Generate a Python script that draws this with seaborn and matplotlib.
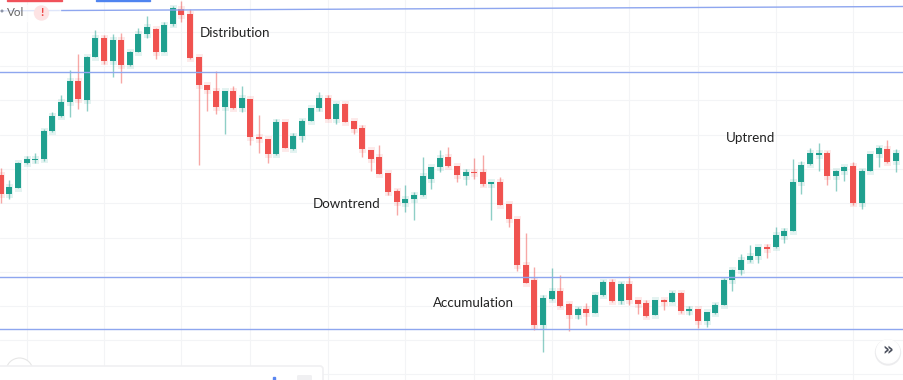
import matplotlib
matplotlib.use("Agg")
import matplotlib.pyplot as plt
import matplotlib.patches as mpatches
import seaborn as sns
import pandas as pd

# y values on a screen-like price scale (small = high)
direction = [
    "r", "g", "g", "g", "g", "g", "g", "g", "g", "r",
    "g", "g", "r", "g", "r", "g", "g", "g", "r", "g",
    "g", "r", "r", "r", "r", "r", "g", "r", "g", "r",
    "r", "r", "g", "r", "g", "g", "g", "g", "r", "g",
    "r", "r", "r", "r", "r", "r", "r", "g", "g", "g",
    "g", "g", "r", "r", "g", "r", "r", "g", "r", "r",
    "r", "r", "r", "g", "g", "r", "r", "g", "r", "g",
    "g", "r", "g", "r", "r", "r", "g", "r", "g", "r",
    "g", "r", "g", "g", "g", "g", "g", "g", "g", "r",
    "g", "g", "g", "g", "g", "g", "r", "g", "g", "r",
    "g", "g", "g", "r", "g", "r"]
body_top = [
    175, 187, 163, 159, 158.5, 131, 116, 102, 81, 81,
    57, 38, 38, 40, 40, 52, 34, 27, 29, 25,
    8, 9, 14, 57, 85, 91, 91, 91, 98, 99,
    137, 139, 122, 122, 136, 121, 108, 98, 98, 104,
    104, 121, 128, 150, 157, 173, 191, 199, 195, 176,
    167, 158, 157, 166, 172, 172, 172, 182, 182, 204,
    219, 265, 280, 298, 291, 291, 304, 309, 309, 295,
    282, 282, 284, 284, 300, 303, 300, 300, 293, 293,
    309, 309, 312, 305, 280, 270, 260, 256, 247, 247,
    235, 231, 182, 165, 153, 153, 153, 171, 167, 166,
    171, 154, 148, 149, 153, 153]
body_bottom = [
    194, 194, 188, 163, 160, 159, 131, 116, 102, 99,
    100, 57, 61, 61, 65, 65, 52, 34, 52, 52,
    24, 15, 58, 85, 90, 107, 107, 108, 108, 137,
    139, 154, 154, 148, 149, 136, 121, 108, 119, 119,
    122, 129, 149, 159, 174, 192, 202, 203, 199, 195,
    179, 167, 166, 175, 176, 173, 184, 183.5, 205, 219,
    265, 283, 325, 325, 299, 306, 315, 315, 313, 313,
    295, 301, 301, 300, 304, 316, 315, 302, 302, 311,
    311, 321, 321, 313, 305, 280, 270, 260, 256, 248.5,
    247, 236, 231, 182, 164, 154.5, 176, 176, 171, 203,
    203, 171, 154, 162, 161, 157]
wick_top = [
    168, 180, 162, 156, 153, 129, 112, 95, 70, 54,
    56, 30, 35, 34, 33, 51, 28, 16, 28, 22,
    6, 1, 9, 57, 85, 71, 91, 86, 86, 99,
    115, 139, 119, 122, 133, 119, 108, 92, 95, 103,
    103, 121, 125, 150, 145, 173, 189, 185, 192, 157,
    167, 150, 147, 166, 169, 158, 155, 181.5, 177, 204,
    219, 233, 267, 295, 268, 275, 303, 307, 303, 294,
    280, 279, 282, 276, 300, 300, 300, 299, 291, 292,
    306, 309, 312, 303, 278, 269, 254, 245, 247, 244,
    227, 228, 159, 161, 148, 143, 151, 170, 166, 162,
    169, 154, 146, 140, 149, 150]
wick_bottom = [
    203, 199, 188, 164, 163, 161, 132, 117, 117, 109,
    111, 57, 64, 77, 83, 66, 52, 38, 59, 52,
    26, 22, 59, 165, 111, 114, 134, 109, 112, 145,
    153, 163, 155, 148, 150, 142, 121, 111, 119, 124,
    122, 134, 157, 171, 174, 195, 215, 212, 220, 196,
    189, 172, 167, 182, 185, 179, 186, 220, 205, 227,
    271, 283, 330, 352, 300, 307, 331, 319, 325, 313,
    296, 302, 304, 305, 314, 317, 315, 310, 302, 313,
    315, 328, 327, 314, 305, 291, 275, 262, 263, 258,
    248, 243, 231, 194, 165, 171, 185, 191, 181, 205,
    209, 171, 167, 163, 172, 160]

level_x = [-1, 106]
level_top = [10.85, 6.45]
level_high = [71.7, 71.7]
level_low = [277, 277]
level_floor = [329.3, 329.3]
grid_candles = [3, 12, 21, 29, 38, 47, 55, 64, 73, 81, 90, 99]
grid_prices = [32, 66, 100, 134.7, 169, 203, 237.5, 271.7, 306, 340, 374]

phase_labels = ["Distribution", "Downtrend", "Accumulation", "Uptrend"]
phase_x = [23.1, 36.3, 50.2, 84.25]
phase_y = [33, 204.5, 303, 137.5]

sns.set_theme(style="white")
plt.rcParams['font.family'] = ['Lato', 'DejaVu Sans']

green, red = "#1fa08f", "#f0524f"
palette = {"g": green, "r": red}

n = len(direction)
candle = list(range(n))
bodies = pd.DataFrame({"candle": candle * 2, "price": body_top + body_bottom, "dir": direction * 2})
wicks = pd.DataFrame({"candle": candle * 2, "price": wick_top + wick_bottom, "dir": direction * 2})

fig = plt.figure(figsize=(9.04, 3.80), dpi=100)
ax = fig.add_axes([0, 0, 1, 1])

# grid on candle / price ticks
ax.set_xticks(grid_candles)
ax.set_yticks(grid_prices)
ax.grid(True, color="#f3f4f6", linewidth=0.8)
ax.set_axisbelow(True)
ax.tick_params(length=0, labelbottom=False, labelleft=False)

# wicks, then a pale halo and the bodies
sns.lineplot(data=wicks, x="candle", y="price", hue="dir", palette=palette, units="candle",
             estimator=None, sort=False, linewidth=1.0, alpha=0.5, legend=False, ax=ax,
             solid_capstyle="butt", zorder=2)
sns.lineplot(data=bodies, x="candle", y="price", hue="dir", palette=palette, units="candle",
             estimator=None, sort=False, linewidth=5.0, alpha=0.12, legend=False, ax=ax,
             solid_capstyle="projecting", zorder=3)
sns.lineplot(data=bodies, x="candle", y="price", hue="dir", palette=palette, units="candle",
             estimator=None, sort=False, linewidth=4.3, legend=False, ax=ax,
             solid_capstyle="butt", zorder=4)

# horizontal levels
for level in [level_top, level_high, level_low, level_floor]:
    sns.lineplot(x=level_x, y=level, color="#8ea6ef", linewidth=1.0, ax=ax, zorder=5)

ax.set_xlim(-0.7 / 8.609, (904 - 0.7) / 8.609)
ax.set_ylim(380, 0)
ax.set_xlabel("")
ax.set_ylabel("")
sns.despine(ax=ax, left=True, bottom=True)

for label, x, y in zip(phase_labels, phase_x, phase_y):
    ax.text(x, y, label, fontsize=9.6, color="#222222", va="center", ha="left", zorder=8)

# everything below sits in screen pixels
tr = fig.dpi_scale_trans


def pix(x, y):
    return x / 100, (380 - y) / 100


# top-left legend strip
fig.add_artist(mpatches.Rectangle(pix(0, 21), 0.60, 0.16, transform=tr, color="white", alpha=0.72, zorder=6))
fig.add_artist(mpatches.Rectangle(pix(7, 1), 0.55, 0.01, transform=tr, color="#f0525a", zorder=7))
fig.add_artist(mpatches.Rectangle(pix(96, 1), 0.54, 0.01, transform=tr, color="#4f84f0", zorder=7))
fig.add_artist(mpatches.Circle(pix(2, 11), 0.008, transform=tr, color="#8d95a8", zorder=7))
fig.add_artist(mpatches.Circle(pix(41.5, 13), 0.07, transform=tr, color="#fde3e4", zorder=7))
fig.text(7 / 904, 1 - 13 / 380, "Vol", fontsize=8.4, color="#666666", va="center", ha="left", zorder=8)
fig.text(41.5 / 904, 1 - 13 / 380, "!", fontsize=8.5, fontweight="bold", color="#ee4444", va="center", ha="center", zorder=8)

# bottom-left panel and round button
fig.add_artist(mpatches.Circle(pix(19.5, 371.5), 0.135, transform=tr, facecolor="white", edgecolor="#e6e6e6", linewidth=0.8, zorder=6))
fig.add_artist(mpatches.FancyBboxPatch(pix(-8, 392), 3.31, 0.26, boxstyle="round,pad=0,rounding_size=0.03", transform=tr,
                                       facecolor="white", edgecolor="#f0f0f2", linewidth=1.2, zorder=7))
fig.add_artist(mpatches.Rectangle(pix(273, 380), 0.015, 0.03, transform=tr, color="#5b86f0", zorder=8))
fig.add_artist(mpatches.FancyBboxPatch(pix(297, 384), 0.15, 0.09, boxstyle="round,pad=0,rounding_size=0.015", transform=tr,
                                       facecolor="#f0f0f2", edgecolor="none", zorder=8))

# scroll button, bottom right
fig.add_artist(mpatches.Circle(pix(888, 352.5), 0.125, transform=tr, color="#ececee", zorder=6))
fig.add_artist(mpatches.Circle(pix(888, 351.5), 0.115, transform=tr, color="white", zorder=7))
fig.text(888 / 904, 1 - 350.5 / 380, "\u00bb", fontsize=12, fontweight="bold", color="#4a4f5c", family=["DejaVu Sans"],
         va="center", ha="center", zorder=8)

plt.savefig("out.png", dpi=100)
